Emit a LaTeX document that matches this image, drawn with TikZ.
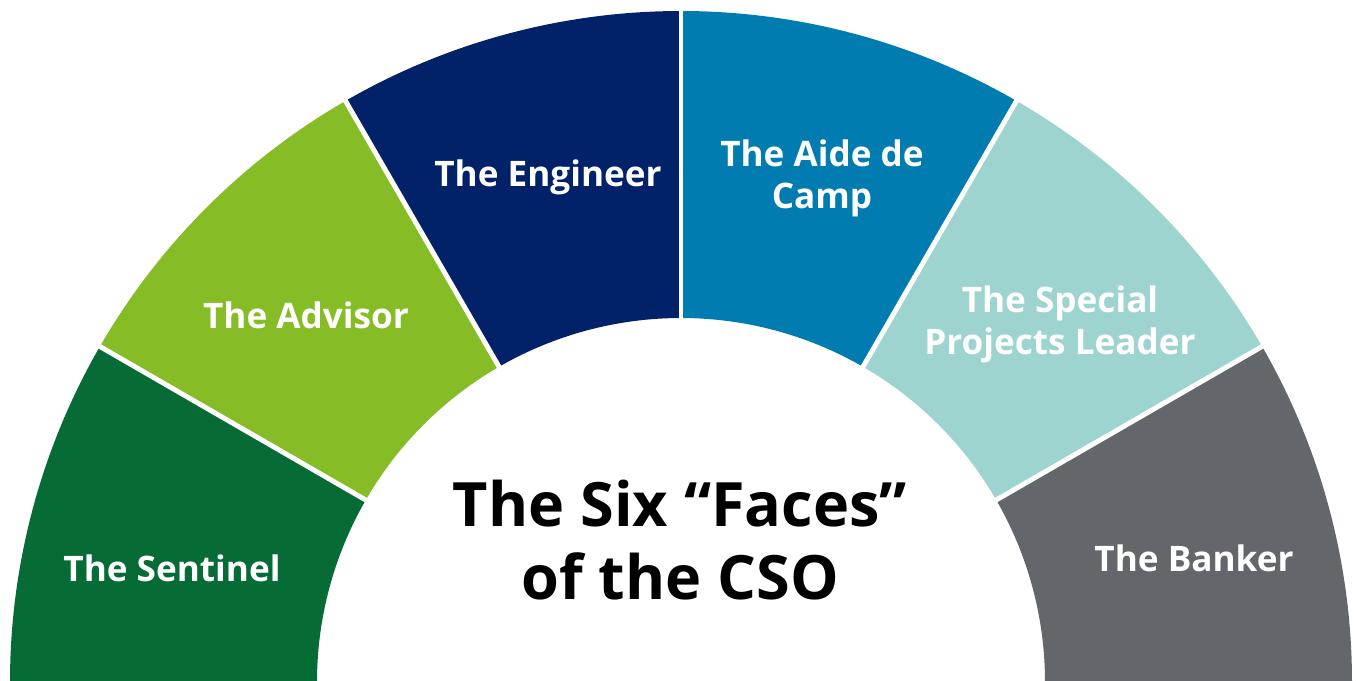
\documentclass[tikz,border=0pt]{standalone}
\usepackage{fontspec}
\setmainfont{Open Sans}
\usepackage{tikz}
\usetikzlibrary{calc}
\definecolor{sentinelGreen}{HTML}{066B35}
\definecolor{advisorGreen}{HTML}{86BC25}
\definecolor{engineerBlue}{HTML}{012169}
\definecolor{aideBlue}{HTML}{007CB0}
\definecolor{specialTeal}{HTML}{9DD4CF}
\definecolor{bankerGrey}{HTML}{63666A}
\newcommand{\faceRin}{3.64}
\newcommand{\faceRout}{6.71}
\tikzstyle{faceLabel}=[text=white, font=\bfseries\fontsize{10}{12}\selectfont, align=center]
\tikzstyle{titleLabel}=[text=black, font=\bfseries\fontsize{17.4}{21}\selectfont, align=center]
\tikzstyle{gap}=[white, line width=1.4pt]
\newcommand\faceSegment{}
\def\faceSegment(#1,#2,#3){%
  \fill[#3] ([shift={(#1:\faceRout)}]c) arc[start angle=#1, end angle=#2, radius=\faceRout]
    -- ([shift={(#2:\faceRin)}]c) arc[start angle=#2, end angle=#1, radius=\faceRin] -- cycle;
}
\newcommand\faceGap{}
\def\faceGap(#1){%
  \draw[gap] ([shift={(#1:3.5)}]c) -- ([shift={(#1:6.9)}]c);
}

\begin{document}
\begin{tikzpicture}
    \useasboundingbox (0,0) rectangle (13.56,6.80);
    \coordinate (c) at (6.81,-0.02);
    % segments
    \faceSegment(180,150,sentinelGreen)
    \faceSegment(150,120,advisorGreen)
    \faceSegment(120,90,engineerBlue)
    \faceSegment(90,60,aideBlue)
    \faceSegment(60,30,specialTeal)
    \faceSegment(30,0,bankerGrey)
    \faceGap(150)
    \faceGap(120)
    \faceGap(90)
    \faceGap(60)
    \faceGap(30)
    % labels
    \node[faceLabel] (sentinel) at (1.72,1.12) {The Sentinel};
    \node[faceLabel] (advisor) at (3.06,3.65) {The Advisor};
    \node[faceLabel] (engineer) at (5.48,5.03) {The Engineer};
    \node[faceLabel] (aide) at (8.22,5.02) {The Aide de\\Camp};
    \node[faceLabel] (special) at (10.60,3.56) {The Special\\Projects Leader};
    \node[faceLabel] (banker) at (11.94,1.22) {The Banker};
    \node[titleLabel] (title) at (6.80,1.40) {The Six “Faces”\\of the CSO};
\end{tikzpicture}
\end{document}
